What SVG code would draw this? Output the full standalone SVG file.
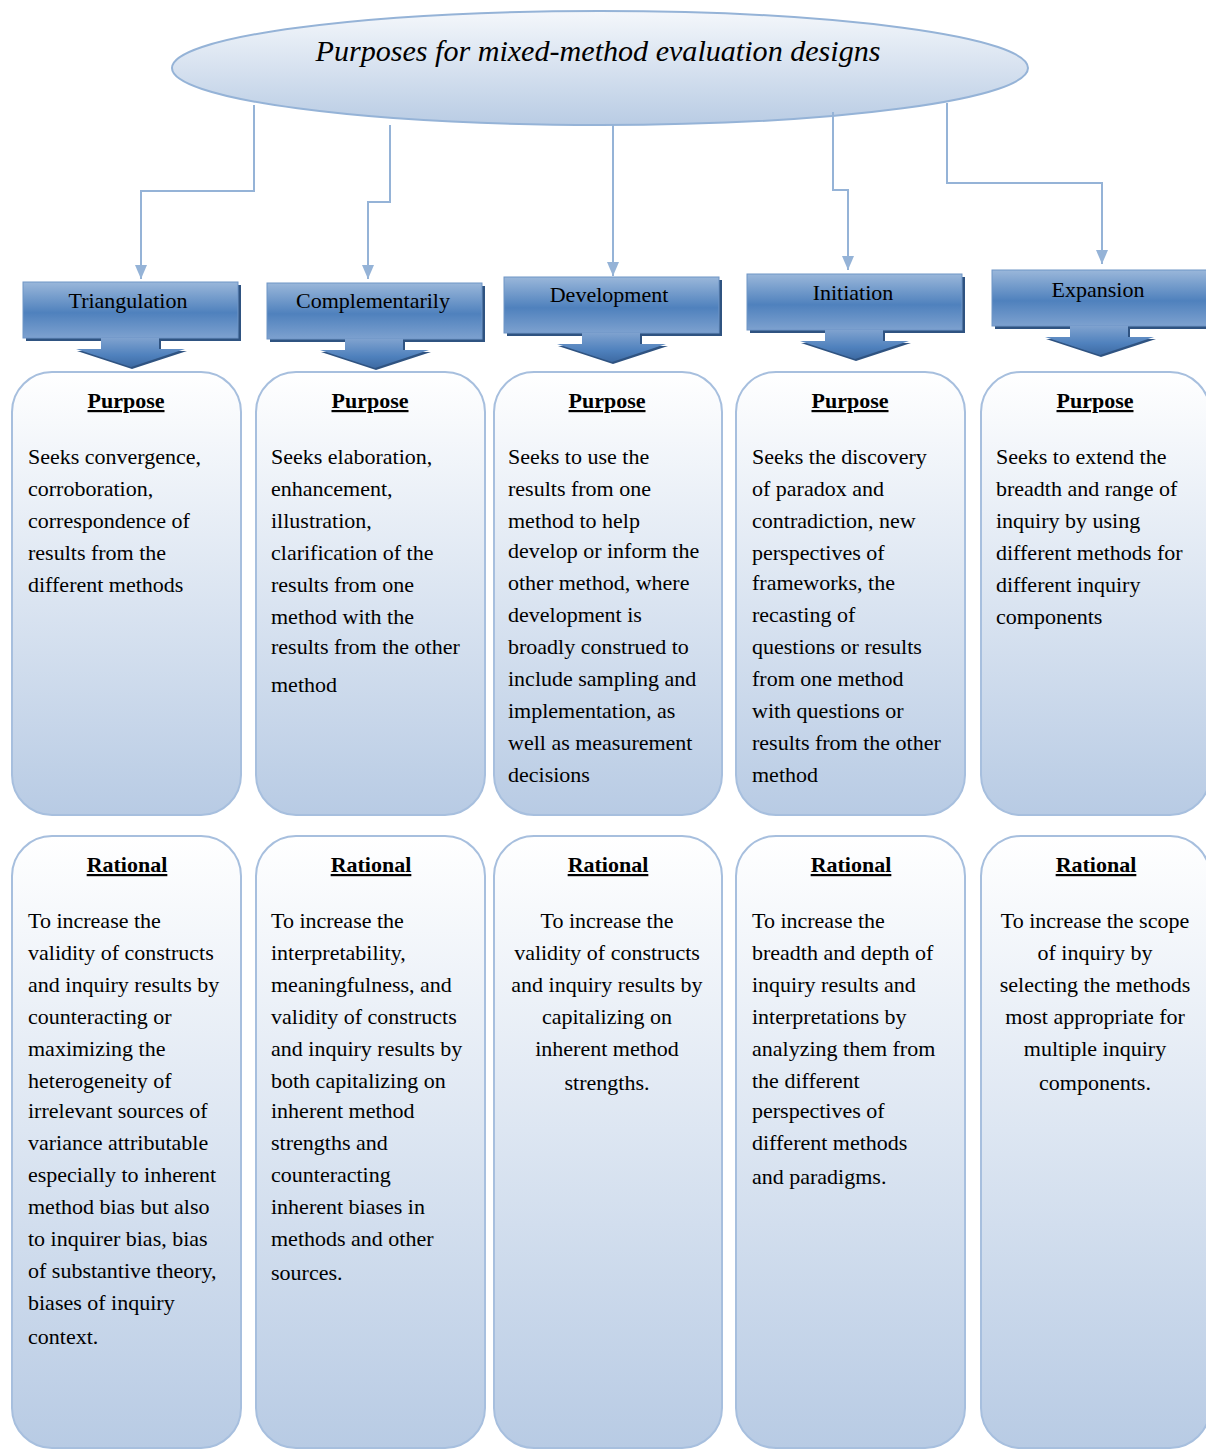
<svg xmlns="http://www.w3.org/2000/svg" width="1206" height="1450" viewBox="0 0 1206 1450">
<defs>
<linearGradient id="ellG" x1="0" y1="0" x2="0" y2="1">
<stop offset="0" stop-color="#f4f7fb"/><stop offset="1" stop-color="#b9cce4"/>
</linearGradient>
<linearGradient id="boxG" x1="0" y1="0" x2="0" y2="1">
<stop offset="0" stop-color="#ffffff"/><stop offset="1" stop-color="#b8cbe4"/>
</linearGradient>
<linearGradient id="barG" x1="0" y1="0" x2="0" y2="1">
<stop offset="0" stop-color="#9ab7da"/><stop offset="0.55" stop-color="#4f81bd"/><stop offset="1" stop-color="#7da1cf"/>
</linearGradient>
<linearGradient id="arrG" x1="0" y1="0" x2="0" y2="1">
<stop offset="0" stop-color="#7fa2cf"/><stop offset="0.6" stop-color="#4f81bd"/><stop offset="1" stop-color="#3d6aa3"/>
</linearGradient>
<marker id="ah" viewBox="0 0 14 12" refX="14" refY="6" markerWidth="14" markerHeight="12" markerUnits="userSpaceOnUse" orient="auto">
<path d="M0,0 L14,6 L0,12 Z" fill="#95b3d7"/>
</marker>
<g id="hdr">
<rect x="3" y="3" width="215" height="56" fill="#2f5381"/>
<rect x="0" y="0" width="215" height="56" fill="url(#barG)" stroke="#6f95c6" stroke-width="1"/>
<path d="M80,57 L138,57 L138,69 L164,69 L109,87 L54,69 L80,69 Z" fill="#2f5381"/>
<path d="M78,56 L136,56 L136,67 L162,67 L108,85 L53,67 L78,67 Z" fill="url(#arrG)"/>
</g>
</defs>
<style>
.conn{fill:none;stroke:#95b3d7;stroke-width:2}
.box{fill:url(#boxG);stroke:#a7bfde;stroke-width:2}
.t{font-family:"Liberation Serif","Times New Roman",serif;font-size:22px;fill:#000}
.h{font-family:"Liberation Serif","Times New Roman",serif;font-size:22px;font-weight:bold;text-decoration:underline;fill:#000;text-anchor:middle}
.hd{font-family:"Liberation Serif","Times New Roman",serif;font-size:22px;fill:#000;text-anchor:middle}
.c{text-anchor:middle}
</style>

<g id="title">
<ellipse cx="600" cy="68" rx="428" ry="57" fill="url(#ellG)" stroke="#95b3d7" stroke-width="2"/>
<text x="598" y="61" font-family="Liberation Serif,Times New Roman,serif" font-style="italic" font-size="29" text-anchor="middle" textLength="565" lengthAdjust="spacingAndGlyphs">Purposes for mixed-method evaluation designs</text>
</g>

<g id="connectors">
<path class="conn" d="M254,105 V191 H141 V279" marker-end="url(#ah)"/>
<path class="conn" d="M390,125 V202 H368 V279" marker-end="url(#ah)"/>
<path class="conn" d="M613,125 V276" marker-end="url(#ah)"/>
<path class="conn" d="M833,112 V190 H848 V270" marker-end="url(#ah)"/>
<path class="conn" d="M947,103 V183 H1102 V264" marker-end="url(#ah)"/>
</g>

<g id="h-triangulation"><use href="#hdr" transform="translate(23,282)"/><text class="hd" x="128" y="308">Triangulation</text></g>
<g id="h-complementarily"><use href="#hdr" transform="translate(267,283)"/><text class="hd" x="373" y="308">Complementarily</text></g>
<g id="h-development"><use href="#hdr" transform="translate(504,277)"/><text class="hd" x="609" y="302">Development</text></g>
<g id="h-initiation"><use href="#hdr" transform="translate(747,274)"/><text class="hd" x="853" y="300">Initiation</text></g>
<g id="h-expansion"><use href="#hdr" transform="translate(992,270)"/><text class="hd" x="1098" y="297">Expansion</text></g>

<g id="p1">
<rect class="box" x="12" y="372" width="229" height="443" rx="40"/>
<text class="h" x="126" y="408">Purpose</text>
<text class="t" x="28"><tspan x="28" y="464">Seeks convergence,</tspan><tspan x="28" y="496">corroboration,</tspan><tspan x="28" y="528">correspondence of</tspan><tspan x="28" y="560">results from the</tspan><tspan x="28" y="592">different methods</tspan></text>
</g>
<g id="p2">
<rect class="box" x="256" y="372" width="229" height="443" rx="40"/>
<text class="h" x="370" y="408">Purpose</text>
<text class="t"><tspan x="271" y="464">Seeks elaboration,</tspan><tspan x="271" y="496">enhancement,</tspan><tspan x="271" y="528">illustration,</tspan><tspan x="271" y="560">clarification of the</tspan><tspan x="271" y="592">results from one</tspan><tspan x="271" y="624">method with the</tspan><tspan x="271" y="654">results from the other</tspan><tspan x="271" y="692">method</tspan></text>
</g>
<g id="p3">
<rect class="box" x="494" y="372" width="228" height="443" rx="40"/>
<text class="h" x="607" y="408">Purpose</text>
<text class="t"><tspan x="508" y="464">Seeks to use the</tspan><tspan x="508" y="496">results from one</tspan><tspan x="508" y="528">method to help</tspan><tspan x="508" y="558">develop or inform the</tspan><tspan x="508" y="590">other method, where</tspan><tspan x="508" y="622">development is</tspan><tspan x="508" y="654">broadly construed to</tspan><tspan x="508" y="686">include sampling and</tspan><tspan x="508" y="718">implementation, as</tspan><tspan x="508" y="750">well as measurement</tspan><tspan x="508" y="782">decisions</tspan></text>
</g>
<g id="p4">
<rect class="box" x="736" y="372" width="229" height="443" rx="40"/>
<text class="h" x="850" y="408">Purpose</text>
<text class="t"><tspan x="752" y="464">Seeks the discovery</tspan><tspan x="752" y="496">of paradox and</tspan><tspan x="752" y="528">contradiction, new</tspan><tspan x="752" y="560">perspectives of</tspan><tspan x="752" y="590">frameworks, the</tspan><tspan x="752" y="622">recasting of</tspan><tspan x="752" y="654">questions or results</tspan><tspan x="752" y="686">from one method</tspan><tspan x="752" y="718">with questions or</tspan><tspan x="752" y="750">results from the other</tspan><tspan x="752" y="782">method</tspan></text>
</g>
<g id="p5">
<rect class="box" x="981" y="372" width="229" height="443" rx="40"/>
<text class="h" x="1095" y="408">Purpose</text>
<text class="t"><tspan x="996" y="464">Seeks to extend the</tspan><tspan x="996" y="496">breadth and range  of</tspan><tspan x="996" y="528">inquiry by using</tspan><tspan x="996" y="560">different methods for</tspan><tspan x="996" y="592">different inquiry</tspan><tspan x="996" y="624">components</tspan></text>
</g>

<g id="r1">
<rect class="box" x="12" y="836" width="229" height="612" rx="40"/>
<text class="h" x="127" y="872">Rational</text>
<text class="t"><tspan x="28" y="928">To increase  the</tspan><tspan x="28" y="960">validity of constructs</tspan><tspan x="28" y="992">and inquiry results by</tspan><tspan x="28" y="1024">counteracting or</tspan><tspan x="28" y="1056">maximizing  the</tspan><tspan x="28" y="1088">heterogeneity of</tspan><tspan x="28" y="1118">irrelevant sources of</tspan><tspan x="28" y="1150">variance  attributable</tspan><tspan x="28" y="1182">especially to inherent</tspan><tspan x="28" y="1214">method bias but also</tspan><tspan x="28" y="1246">to inquirer bias, bias</tspan><tspan x="28" y="1278">of substantive theory,</tspan><tspan x="28" y="1310">biases of inquiry</tspan><tspan x="28" y="1344">context.</tspan></text>
</g>
<g id="r2">
<rect class="box" x="256" y="836" width="229" height="612" rx="40"/>
<text class="h" x="371" y="872">Rational</text>
<text class="t"><tspan x="271" y="928">To increase  the</tspan><tspan x="271" y="960">interpretability,</tspan><tspan x="271" y="992">meaningfulness,  and</tspan><tspan x="271" y="1024">validity of constructs</tspan><tspan x="271" y="1056">and inquiry results by</tspan><tspan x="271" y="1088">both capitalizing on</tspan><tspan x="271" y="1118">inherent method</tspan><tspan x="271" y="1150">strengths and</tspan><tspan x="271" y="1182">counteracting</tspan><tspan x="271" y="1214">inherent biases  in</tspan><tspan x="271" y="1246">methods and other</tspan><tspan x="271" y="1280">sources.</tspan></text>
</g>
<g id="r3">
<rect class="box" x="494" y="836" width="228" height="612" rx="40"/>
<text class="h" x="608" y="872">Rational</text>
<text class="t c"><tspan x="607" y="928">To increase  the</tspan><tspan x="607" y="960">validity of constructs</tspan><tspan x="607" y="992">and inquiry results by</tspan><tspan x="607" y="1024">capitalizing on</tspan><tspan x="607" y="1056">inherent method</tspan><tspan x="607" y="1090">strengths.</tspan></text>
</g>
<g id="r4">
<rect class="box" x="736" y="836" width="229" height="612" rx="40"/>
<text class="h" x="851" y="872">Rational</text>
<text class="t"><tspan x="752" y="928">To increase  the</tspan><tspan x="752" y="960">breadth and depth of</tspan><tspan x="752" y="992">inquiry results and</tspan><tspan x="752" y="1024">interpretations by</tspan><tspan x="752" y="1056">analyzing them from</tspan><tspan x="752" y="1088">the different</tspan><tspan x="752" y="1118">perspectives of</tspan><tspan x="752" y="1150">different methods</tspan><tspan x="752" y="1184">and paradigms.</tspan></text>
</g>
<g id="r5">
<rect class="box" x="981" y="836" width="229" height="612" rx="40"/>
<text class="h" x="1096" y="872">Rational</text>
<text class="t c"><tspan x="1095" y="928">To increase the scope</tspan><tspan x="1095" y="960">of inquiry by</tspan><tspan x="1095" y="992">selecting  the methods</tspan><tspan x="1095" y="1024">most appropriate for</tspan><tspan x="1095" y="1056">multiple inquiry</tspan><tspan x="1095" y="1090">components.</tspan></text>
</g>
</svg>
